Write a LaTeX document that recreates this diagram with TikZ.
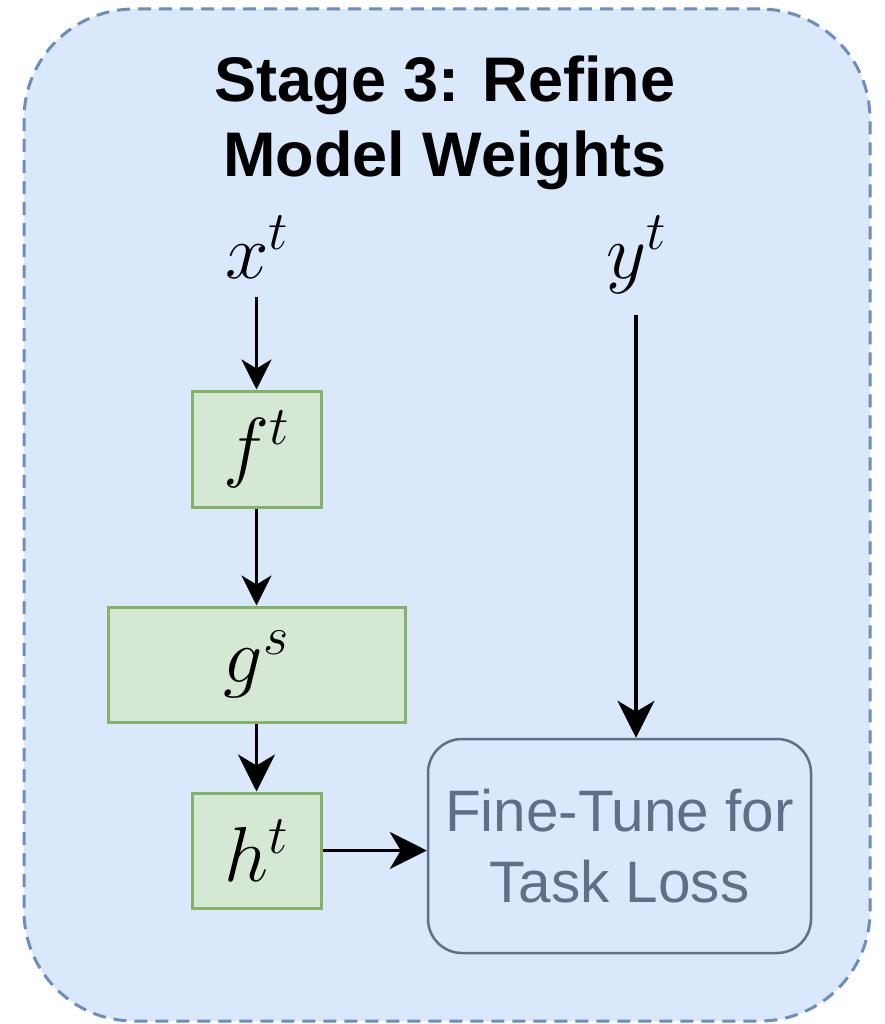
\RequirePackage{fix-cm}
\documentclass[tikz,border=0pt]{standalone}
\usepackage{fontspec}
\newfontfamily\headfont{Liberation Sans}
\usetikzlibrary{arrows.meta}
\definecolor{stagefill}{HTML}{DAE8FC}
\definecolor{stageline}{HTML}{6C8EBF}
\definecolor{blockfill}{HTML}{D5E8D4}
\definecolor{blockline}{HTML}{82B366}
\definecolor{slate}{RGB}{95,111,135}
\begin{document}
\begin{tikzpicture}[x=1pt,y=-1pt,
  stagebox/.style={draw=stageline, fill=stagefill, line width=3pt,
    dash pattern=on 13pt off 8pt, rounded corners=110pt,
    minimum width=846pt, minimum height=1012pt, inner sep=0pt},
  block/.style={draw=blockline, fill=blockfill, line width=3pt, inner sep=0pt,
    font=\fontsize{78}{78}\selectfont},
  varlabel/.style={inner sep=0pt, anchor=base, font=\fontsize{78}{78}\selectfont},
  taskbox/.style={draw=slate, line width=2.5pt, rounded corners=34pt,
    minimum width=383pt, minimum height=214pt, inner sep=0pt,
    text=slate, align=center, font=\headfont\fontsize{58.5}{71}\selectfont},
  arr/.style={-{Stealth[length=30pt,width=30pt,inset=9pt]}, line width=3.5pt},
  bigarr/.style={-{Stealth[length=37pt,width=37pt,inset=11pt]}, line width=3.5pt}]
\useasboundingbox (0,0) rectangle (884,1024);

% container
\node[stagebox] (stage) at (447,515) {};
\node[inner sep=0pt, align=center, font=\headfont\bfseries\fontsize{63}{75}\selectfont]
  (title) at (445,123) {Stage 3: Refine\\Model Weights};

% inputs
\node[varlabel] (xt) at (257,278) {$x^t$};
\node[varlabel] (yt) at (636,278) {$y^t$};

% model blocks
\node[block, minimum width=129pt, minimum height=116pt] (ft) at (256.5,449) {$f^t$};
\node[block, minimum width=297pt, minimum height=115pt] (gs) at (256.5,664.5) {$g^s$};
\node[block, minimum width=129pt, minimum height=115pt] (ht) at (256.5,850.5) {$h^t$};

% loss
\node[taskbox] (fine) at (619.5,846) {Fine-Tune for\\Task Loss};

% connectors
\draw[arr, shorten <=19pt] (ft.north |- xt.south) -- (ft.north);
\draw[arr] (ft.south) -- (ft.south |- gs.north);
\draw[bigarr] (ht.north |- gs.south) -- (ht.north);
\draw[bigarr] (ht.east) -- (fine.west |- ht.east);
\draw[bigarr, shorten <=22pt] (yt.south) -- (yt.south |- fine.north);
\end{tikzpicture}
\end{document}
